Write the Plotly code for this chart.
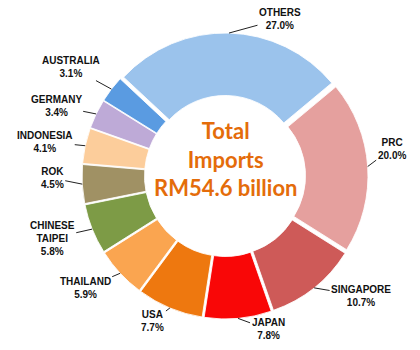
import math
import plotly.graph_objects as go

# Import shares by source (per cent of total imports)
countries = ["OTHERS", "PRC", "SINGAPORE", "JAPAN", "USA", "THAILAND",
             "CHINESE<br>TAIPEI", "ROK", "INDONESIA", "GERMANY", "AUSTRALIA"]
shares = [27.0, 20.0, 10.7, 7.8, 7.7, 5.9, 5.8, 4.5, 4.1, 3.4, 3.1]
slice_colors = ["#9BC3EC", "#E5A09E", "#CE5A58", "#F90707", "#EE780F", "#FAA550",
                "#7D9B46", "#A09164", "#FCCD9B", "#BEAAD7", "#5A9BE1"]
center_lines = ["Total", "Imports", "RM54.6 billion"]

# Canvas and donut geometry (pixels)
W, H = 420, 350
CX, CY = 225, 176
SIZE = 286
PULL = 0.03
HOLE = 0.55
START = -47  # degrees clockwise from 12 o'clock where the first slice begins

# Label placement: text-centre offset (px) from the slice's outer edge point
label_offsets = [(51, -14), (24, -18), (47, 8), (30, 11), (-17, 13), (-35, 15),
                 (-40, 9), (-30, -6), (-40, -4), (-40, -8), (-40, -22)]

fig = go.Figure(go.Pie(
    labels=countries,
    values=shares,
    sort=False,
    direction="clockwise",
    rotation=START,
    hole=HOLE,
    pull=[PULL] * len(shares),
    textinfo="none",
    hoverinfo="label+percent",
    marker=dict(colors=slice_colors, line=dict(color="rgba(255,255,255,0.85)", width=1)),
    domain=dict(x=[(CX - SIZE / 2) / W, (CX + SIZE / 2) / W],
                y=[1 - (CY + SIZE / 2) / H, 1 - (CY - SIZE / 2) / H]),
    showlegend=False,
))

# Outer radius of the pulled slices
r0 = SIZE / (2 + 2 * PULL)
r_edge = r0 * (1 + PULL)

total = sum(shares)
annotations = []
acc = 0.0
for name, val, (dx, dy) in zip(countries, shares, label_offsets):
    mid = math.radians(START + 360 * (acc + val / 2) / total)
    acc += val
    px = CX + r_edge * math.sin(mid)
    py = CY - r_edge * math.cos(mid)
    annotations.append(dict(
        x=px / W, y=1 - py / H, xref="paper", yref="paper",
        text=f"<b>{name}<br>{val:.1f}%</b>",
        showarrow=True, arrowhead=0, arrowwidth=1, arrowcolor="#222222",
        ax=dx, ay=dy, standoff=0, startstandoff=0,
        font=dict(family="Arial, Liberation Sans, sans-serif", size=10, color="#111111"),
        align="center",
    ))

# Centre title in the donut hole
annotations.append(dict(
    x=CX / W, y=1 - (CY - 17) / H, xref="paper", yref="paper",
    text="<b>" + "<br>".join(center_lines) + "</b>", showarrow=False,
    xanchor="center", yanchor="middle", align="center",
    font=dict(family="Lato, Carlito, sans-serif", size=22, color="#E46C0A"),
))

fig.update_layout(
    width=W, height=H,
    margin=dict(l=0, r=0, t=0, b=0),
    paper_bgcolor="white",
    plot_bgcolor="white",
    annotations=annotations,
)

fig.write_html("out.html")
